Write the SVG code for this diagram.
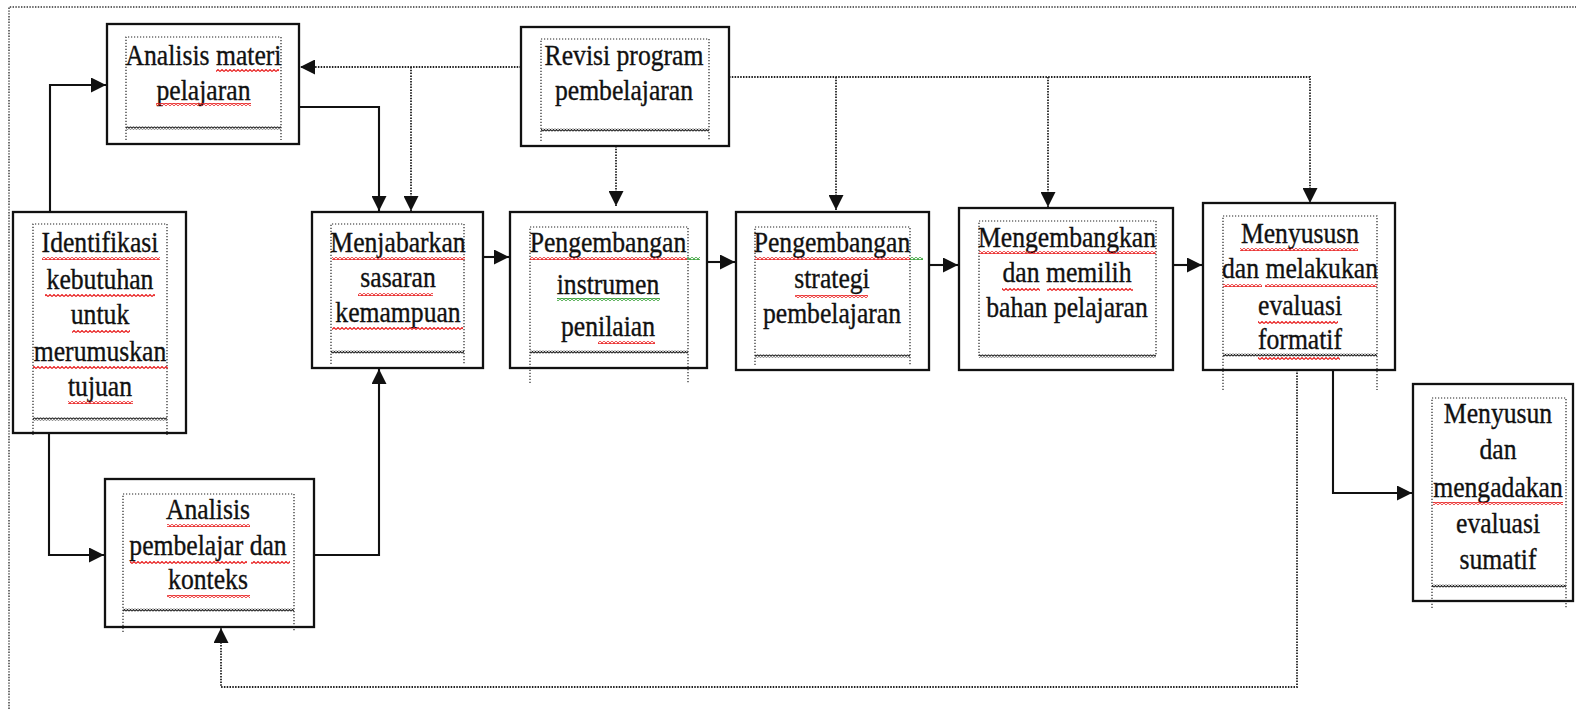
<svg xmlns="http://www.w3.org/2000/svg" width="1576" height="709" viewBox="0 0 1576 709">
<style>
.box{fill:#fff;stroke:#111;stroke-width:2.3}
.inner{fill:none;stroke:#222;stroke-width:1.2;stroke-dasharray:1.2 1.8}
.t{font-family:"Liberation Serif","Times New Roman",serif;font-size:29.5px;fill:#111;stroke:#111;stroke-width:0.35;text-anchor:middle}
.solid{fill:none;stroke:#111;stroke-width:2.1}
.dot{fill:none;stroke:#222;stroke-width:1.8;stroke-dasharray:1.5 1.3}
.frame{fill:none;stroke:#333;stroke-width:1.4;stroke-dasharray:1.4 1.4}
.wv{fill:url(#wavyB)}
.sr{fill:url(#wavyR)}
.sg{fill:url(#wavyG)}
</style>
<defs>
<pattern id="wavyB" patternUnits="userSpaceOnUse" width="3" height="3"><path d="M0,2.5 L1.5,0.5 L3,2.5" fill="none" stroke="#222" stroke-width="1.2"/></pattern>
<pattern id="wavyR" patternUnits="userSpaceOnUse" width="4" height="3"><path d="M0,2.5 L2,0.5 L4,2.5" fill="none" stroke="#e81818" stroke-width="1.1"/></pattern>
<pattern id="wavyG" patternUnits="userSpaceOnUse" width="4" height="3"><path d="M0,2.5 L2,0.5 L4,2.5" fill="none" stroke="#2a9a2a" stroke-width="1.1"/></pattern>
<marker id="arr" markerUnits="userSpaceOnUse" markerWidth="15" markerHeight="15" refX="15" refY="7.5" orient="auto"><path d="M0,0 L15,7.5 L0,15 Z" fill="#111"/></marker>
</defs>
<rect x="0" y="0" width="1576" height="709" fill="#fff"/>
<path class="frame" d="M9,709 V7 H1576"/>

<g id="connectors">
<path class="solid" d="M50,212 V85 H106" marker-end="url(#arr)"/>
<path class="solid" d="M49,433 V555 H104" marker-end="url(#arr)"/>
<path class="solid" d="M299,107 H379 V211" marker-end="url(#arr)"/>
<path class="solid" d="M314,555 H379 V369" marker-end="url(#arr)"/>
<path class="solid" d="M483,257 H509" marker-end="url(#arr)"/>
<path class="solid" d="M707,262 H735" marker-end="url(#arr)"/>
<path class="solid" d="M929,265 H958" marker-end="url(#arr)"/>
<path class="solid" d="M1173,265 H1202" marker-end="url(#arr)"/>
<path class="solid" d="M1333,370 V493 H1412" marker-end="url(#arr)"/>
<path class="dot" d="M521,67 H300" marker-end="url(#arr)"/>
<path class="dot" d="M411,67 V211" marker-end="url(#arr)"/>
<path class="dot" d="M616,146 V206" marker-end="url(#arr)"/>
<path class="dot" d="M729,77 H1310 V203" marker-end="url(#arr)"/>
<path class="dot" d="M836,77 V210" marker-end="url(#arr)"/>
<path class="dot" d="M1048,77 V207" marker-end="url(#arr)"/>
<path class="dot" d="M1297,367 V687 H221 V628" marker-end="url(#arr)"/>
</g>

<g id="n-materi">
<rect class="box" x="107" y="24" width="192" height="120"/>
<path class="inner" d="M126,140 V37 H281 V140"/>
<rect class="wv" x="126" y="126.5" width="155" height="3"/>
<g transform="translate(203.5,0) scale(0.87,1)"><text class="t" x="0" y="65">Analisis materi</text><text class="t" x="0" y="100">pelajaran</text></g>
<rect class="sr" x="216" y="69" width="63" height="3"/>
<rect class="sr" x="156" y="103" width="95" height="3"/>
</g>

<g id="n-revisi">
<rect class="box" x="521" y="27" width="208" height="119"/>
<path class="inner" d="M541,141 V39 H709 V141"/>
<rect class="wv" x="541" y="128.5" width="168" height="3"/>
<g transform="translate(624,0) scale(0.87,1)"><text class="t" x="0" y="65">Revisi program</text><text class="t" x="0" y="100">pembelajaran</text></g>
</g>

<g id="n-identifikasi">
<rect class="box" x="13" y="212" width="173" height="221"/>
<path class="inner" d="M33,435 V224 H167 V435"/>
<rect class="wv" x="33" y="417.5" width="134" height="3"/>
<g transform="translate(100,0) scale(0.87,1)"><text class="t" x="0" y="252">Identifikasi</text><text class="t" x="0" y="289">kebutuhan</text><text class="t" x="0" y="324">untuk</text><text class="t" x="0" y="361">merumuskan</text><text class="t" x="0" y="396">tujuan</text></g>
<rect class="sr" x="42" y="257" width="118" height="3"/>
<rect class="sr" x="45" y="294" width="110" height="3"/>
<rect class="sr" x="72" y="330" width="58" height="3"/>
<rect class="sr" x="33" y="366" width="135" height="3"/>
<rect class="sr" x="68" y="401" width="65" height="3"/>
</g>

<g id="n-menjabarkan">
<rect class="box" x="312" y="212" width="171" height="156"/>
<path class="inner" d="M331,364 V224 H464 V364"/>
<rect class="wv" x="331" y="350.5" width="133" height="3"/>
<g transform="translate(398,0) scale(0.87,1)"><text class="t" x="0" y="252">Menjabarkan</text><text class="t" x="0" y="287">sasaran</text><text class="t" x="0" y="322">kemampuan</text></g>
<rect class="sr" x="332" y="257" width="133" height="3"/>
<rect class="sr" x="358" y="293" width="75" height="3"/>
<rect class="sr" x="332" y="327" width="131" height="3"/>
</g>

<g id="n-instrumen">
<rect class="box" x="510" y="212" width="197" height="156"/>
<path class="inner" d="M530,383 V227 H688 V383"/>
<rect class="wv" x="530" y="350.5" width="158" height="3"/>
<g transform="translate(608,0) scale(0.87,1)"><text class="t" x="0" y="252">Pengembangan</text><text class="t" x="0" y="294">instrumen</text><text class="t" x="0" y="336">penilaian</text></g>
<rect class="sr" x="530" y="257" width="157" height="3"/>
<rect class="sg" x="687" y="257" width="13" height="3"/>
<rect class="sg" x="557" y="298" width="103" height="3"/>
<rect class="sr" x="598" y="341" width="57" height="3"/>
</g>

<g id="n-strategi">
<rect class="box" x="736" y="212" width="193" height="158"/>
<path class="inner" d="M755,365 V227 H910 V365"/>
<rect class="wv" x="755" y="354.5" width="155" height="3"/>
<g transform="translate(832,0) scale(0.87,1)"><text class="t" x="0" y="252">Pengembangan</text><text class="t" x="0" y="288">strategi</text><text class="t" x="0" y="323">pembelajaran</text></g>
<rect class="sr" x="755" y="257" width="155" height="3"/>
<rect class="sg" x="910" y="257" width="13" height="3"/>
<rect class="sr" x="795" y="295" width="73" height="3"/>
</g>

<g id="n-mengembangkan">
<rect class="box" x="959" y="208" width="214" height="162"/>
<path class="inner" d="M979,356 V221 H1156 V356"/>
<rect class="wv" x="979" y="354.5" width="177" height="3"/>
<g transform="translate(1067,0) scale(0.87,1)"><text class="t" x="0" y="247">Mengembangkan</text><text class="t" x="0" y="282">dan memilih</text><text class="t" x="0" y="317">bahan pelajaran</text></g>
<rect class="sr" x="979" y="251" width="177" height="3"/>
<rect class="sr" x="1002" y="288" width="38" height="3"/>
<rect class="sr" x="1047" y="288" width="86" height="3"/>
</g>

<g id="n-formatif">
<rect class="box" x="1203" y="203" width="192" height="167"/>
<path class="inner" d="M1223,390 V216 H1377 V390"/>
<rect class="wv" x="1223" y="353.5" width="154" height="3"/>
<g transform="translate(1300,0) scale(0.87,1)"><text class="t" x="0" y="243">Menyususn</text><text class="t" x="0" y="278">dan melakukan</text><text class="t" x="0" y="315">evaluasi</text><text class="t" x="0" y="349">formatif</text></g>
<rect class="sr" x="1240" y="248" width="118" height="3"/>
<rect class="sr" x="1223" y="284" width="39" height="3"/>
<rect class="sr" x="1265" y="284" width="112" height="3"/>
<rect class="sr" x="1258" y="321" width="80" height="3"/>
<rect class="sr" x="1258" y="357" width="82" height="3"/>
</g>

<g id="n-pembelajar">
<rect class="box" x="105" y="479" width="209" height="148"/>
<path class="inner" d="M123,632 V494 H294 V632"/>
<rect class="wv" x="123" y="608.5" width="171" height="3"/>
<g transform="translate(208,0) scale(0.87,1)"><text class="t" x="0" y="519">Analisis</text><text class="t" x="0" y="555">pembelajar dan</text><text class="t" x="0" y="589">konteks</text></g>
<rect class="sr" x="167" y="524" width="83" height="3"/>
<rect class="sr" x="130" y="561" width="117" height="3"/>
<rect class="sr" x="251" y="561" width="39" height="3"/>
<rect class="sr" x="167" y="595" width="83" height="3"/>
</g>

<g id="n-sumatif">
<rect class="box" x="1413" y="384" width="160" height="217"/>
<path class="inner" d="M1432,608 V398 H1566 V608"/>
<rect class="wv" x="1432" y="584.5" width="134" height="3"/>
<g transform="translate(1498,0) scale(0.87,1)"><text class="t" x="0" y="423">Menyusun</text><text class="t" x="0" y="459">dan</text><text class="t" x="0" y="497">mengadakan</text><text class="t" x="0" y="533">evaluasi</text><text class="t" x="0" y="569">sumatif</text></g>
<rect class="sr" x="1433" y="502" width="130" height="3"/>
</g>
</svg>
